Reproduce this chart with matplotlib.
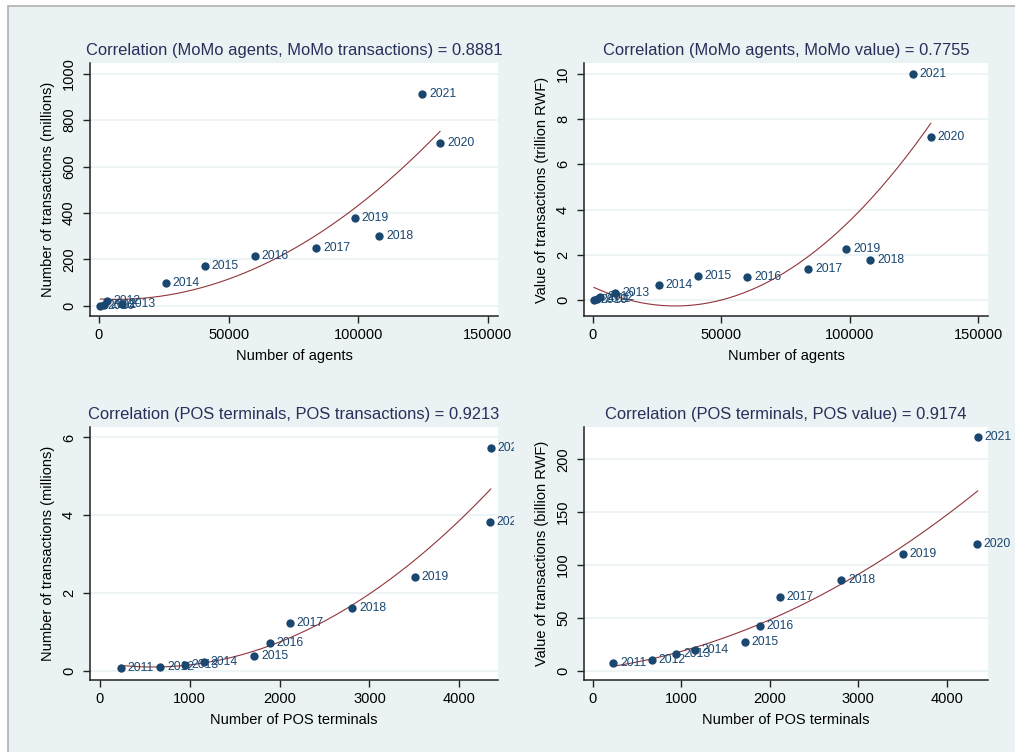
import numpy as np
import matplotlib
matplotlib.use('Agg')
import matplotlib.pyplot as plt
from matplotlib.patches import Rectangle
from matplotlib.transforms import Bbox, TransformedBbox

plt.rcParams['font.family'] = ['Liberation Sans', 'DejaVu Sans']

# MoMo data, 2010-2021
momo_years = [2010, 2011, 2012, 2013, 2014, 2015, 2016, 2017, 2018, 2019, 2020, 2021]
momo_agents = [500, 1800, 3000, 8800, 25700, 40800, 60150, 83800, 108000, 98700, 131500, 124600]
momo_txn = [1, 4, 20, 8, 99, 171, 213, 249, 302, 379, 700, 911]          # millions
momo_value = [0.01, 0.08, 0.15, 0.32, 0.675, 1.07, 1.01, 1.40, 1.78, 2.28, 7.21, 10.0]  # trillion RWF

# POS data, 2011-2021
pos_years = [2011, 2012, 2013, 2014, 2015, 2016, 2017, 2018, 2019, 2020, 2021]
pos_terminals = [230, 670, 945, 1155, 1720, 1888, 2112, 2810, 3505, 4340, 4350]
pos_txn = [0.06, 0.09, 0.15, 0.22, 0.39, 0.70, 1.23, 1.62, 2.42, 3.82, 5.72]      # millions
pos_value = [7.6, 9.8, 15.8, 19.6, 27.2, 42.3, 69.5, 85.8, 110.2, 119.9, 221.2]    # billion RWF

BG = '#eaf2f3'
NAVY = '#1a476f'
MAROON = '#90353b'

W, H = 1015, 752
fig = plt.figure(figsize=(W / 100, H / 100), dpi=100)
fig.patch.set_facecolor('white')
fig.patches.append(Rectangle((8 / W, -0.01), 1, 1.01 - 6 / H, transform=fig.transFigure,
                             facecolor=BG, edgecolor='#b0b0b0', lw=1.2, zorder=-10))


def panel(rect, x, y, years, title, xlabel, ylabel, xlim, ylim, xticks, yticks, clip_x=None):
    ax = fig.add_axes(rect)
    ax.set_facecolor('white')
    for s in ['top', 'right']:
        ax.spines[s].set_visible(False)
    for s in ['left', 'bottom']:
        ax.spines[s].set_color('#222222')
        ax.spines[s].set_linewidth(1.1)
    ax.set_xlim(*xlim)
    ax.set_ylim(*ylim)
    ax.set_xticks(xticks)
    ax.set_yticks(yticks)
    ax.grid(axis='y', color=BG, lw=1.2, zorder=0)
    ax.set_axisbelow(True)
    ax.tick_params(direction='out', length=5, width=1, color='#222222', labelsize=10.5)
    ax.tick_params(axis='y', pad=5)
    for lab in ax.get_yticklabels():
        lab.set_rotation(90)
        lab.set_va('center')

    # quadratic fit, as in Stata's qfit
    coef = np.polyfit(x, y, 2)
    xs = np.linspace(min(x), max(x), 200)
    ax.plot(xs, np.polyval(coef, xs), color=MAROON, lw=0.8, zorder=2)
    ax.scatter(x, y, s=36, color=NAVY, zorder=3, linewidths=0)

    clip = None
    if clip_x is not None:
        clip = TransformedBbox(Bbox.from_extents(0, 0, clip_x / W, 1), fig.transFigure)
    for xi, yi, yr in zip(x, y, years):
        t = ax.annotate(str(yr), (xi, yi), xytext=(5, 0), textcoords='offset points',
                        va='center', ha='left', fontsize=8.8, color=NAVY, zorder=4)
        if clip is not None:
            t.set_clip_box(clip)
            t.set_clip_on(True)

    ax.set_title(title, fontsize=11.9, color='#27305a', pad=6)
    ax.set_xlabel(xlabel, fontsize=10.5, labelpad=5)
    ax.set_ylabel(ylabel, fontsize=10.5, labelpad=5)
    return ax


top_b, bot_b, h = 1 - 316 / H, 1 - 680 / H, 253 / H
left_l, left_r = 90 / W, 584 / W
w_l, w_r = 408 / W, 404 / W

panel([left_l, top_b, w_l, h], momo_agents, momo_txn, momo_years,
      'Correlation (MoMo agents, MoMo transactions) = 0.8881',
      'Number of agents', 'Number of transactions (millions)',
      (-3470, 153860), (-44, 1046), [0, 50000, 100000, 150000], [0, 200, 400, 600, 800, 1000])

panel([left_r, top_b, w_r, h], momo_agents, momo_value, momo_years,
      'Correlation (MoMo agents, MoMo value) = 0.7755',
      'Number of agents', 'Value of transactions (trillion RWF)',
      (-3380, 153780), (-0.69, 10.47), [0, 50000, 100000, 150000], [0, 2, 4, 6, 8, 10])

panel([left_l, bot_b, w_l, h], pos_terminals, pos_txn, pos_years,
      'Correlation (POS terminals, POS transactions) = 0.9213',
      'Number of POS terminals', 'Number of transactions (millions)',
      (-111, 4431), (-0.24, 6.27), [0, 1000, 2000, 3000, 4000], [0, 2, 4, 6], clip_x=514)

panel([left_r, bot_b, w_r, h], pos_terminals, pos_value, pos_years,
      'Correlation (POS terminals, POS value) = 0.9174',
      'Number of POS terminals', 'Value of transactions (billion RWF)',
      (-98, 4467), (-8.8, 230.7), [0, 1000, 2000, 3000, 4000], [0, 50, 100, 150, 200])

fig.savefig('out.png', dpi=100, facecolor=fig.get_facecolor())
